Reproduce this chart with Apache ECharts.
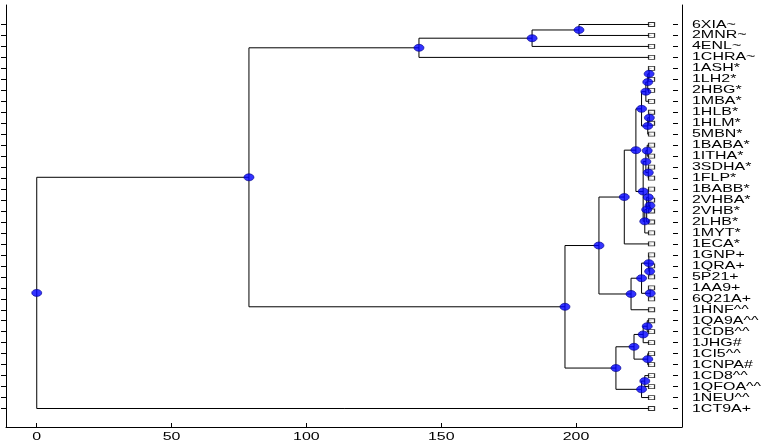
<!DOCTYPE html>
<html>
<head>
<meta charset="utf-8">
<script src="https://cdn.jsdelivr.net/npm/echarts@6/dist/echarts.min.js"></script>
<style>
html,body{margin:0;padding:0;background:#fff;}
#chart{width:764px;height:442px;}
</style>
</head>
<body>
<div id="chart"></div>
<script>
// Leaf labels, top to bottom
const leafLabels = ['6XIA~','2MNR~','4ENL~','1CHRA~','1ASH*','1LH2*','2HBG*','1MBA*','1HLB*','1HLM*','5MBN*','1BABA*','1ITHA*','3SDHA*','1FLP*','1BABB*','2VHBA*','2VHB*','2LHB*','1MYT*','1ECA*','1GNP+','1QRA+','5P21+','1AA9+','6Q21A+','1HNF^^','1QA9A^^','1CDB^^','1JHG#','1CI5^^','1CNPA#','1CD8^^','1QFOA^^','1NEU^^','1CT9A+'];
// Distance of the leaves from the root
const leafDepth = 228.0;
// Merges: negative = leaf (1-based row), positive = earlier merge (1-based)
const mergeA = [-1, 1, 2, -5, 4, 5, -9, 7, 6, -12, -14, 10, -17, -16, 14, 15, 12, 9, 18, -23, -22, -25, 21, 23, 19, -28, 26, -31, 27, -33, 30, 29, 25, 3, 34];
const mergeB = [-2, -3, -4, -6, -7, -8, -10, -11, 8, -13, -15, 11, -18, 13, -19, -20, 16, 17, -21, -24, 20, -26, 22, -27, 24, -29, -30, -32, 28, -34, -35, 31, 32, 33, -36];
const mergeDepth = [201.1, 183.7, 141.75, 227.1, 226.6, 225.9, 227.2, 226.6, 224.3, 226.4, 226.8, 225.9, 227.4, 226.8, 226.2, 225.5, 224.9, 222.2, 217.9, 227.3, 227.0, 227.5, 224.3, 220.4, 208.5, 226.4, 224.9, 226.6, 221.5, 225.5, 224.3, 214.8, 195.9, 78.7, 0];
// x-axis tick labels
const xTicks = [0, 50, 100, 150, 200];

const X_MIN = -11.4, X_MAX = 239.3;

const nodeY = [];
function pos(ref) {
  return ref < 0 ? [leafDepth, -ref] : [mergeDepth[ref - 1], nodeY[ref - 1]];
}
const segs = [];
const nodePts = [];
for (let k = 0; k < mergeDepth.length; k++) {
  const a = pos(mergeA[k]), b = pos(mergeB[k]);
  const y = (a[1] + b[1]) / 2;
  nodeY.push(y);
  const x = mergeDepth[k];
  segs.push({coords: [[a[0], a[1]], [x, a[1]], [x, b[1]], [b[0], b[1]]]});
  nodePts.push([x, y]);
}
const leafPts = leafLabels.map((t, i) => [leafDepth, i + 1]);

const FONT = 'Liberation Sans, Arial, Helvetica, sans-serif';
const STRETCH = 1.45;

const chart = echarts.init(document.getElementById('chart'), null, {renderer: 'canvas'});
const blk = {color: '#000', width: 1};
chart.setOption({
  animation: false,
  backgroundColor: '#fff',
  grid: [
    {left: 6, right: 82, top: 5, bottom: 15},
    {left: 6, right: 82, top: 19, bottom: 28}
  ],
  xAxis: [
    {gridIndex: 0, type: 'value', min: X_MIN, max: X_MAX, splitNumber: 5,
     axisLine: {show: true, onZero: false, lineStyle: blk},
     axisTick: {show: true, inside: true, length: 4, lineStyle: blk},
     axisLabel: {show: false}, splitLine: {show: false}},
    {gridIndex: 1, type: 'value', min: X_MIN, max: X_MAX, show: false}
  ],
  yAxis: [
    {gridIndex: 0, type: 'value', min: 0, max: 1, position: 'left',
     axisLine: {show: true, onZero: false, lineStyle: blk}, axisTick: {show: false},
     axisLabel: {show: false}, splitLine: {show: false}},
    {gridIndex: 0, type: 'value', min: 0, max: 1, position: 'right',
     axisLine: {show: true, onZero: false, lineStyle: blk}, axisTick: {show: false},
     axisLabel: {show: false}, splitLine: {show: false}},
    {gridIndex: 1, type: 'category', data: leafLabels, inverse: true, position: 'left',
     axisLine: {show: false, onZero: false},
     axisTick: {show: true, alignWithLabel: true, interval: 0, length: 5, lineStyle: blk},
     axisLabel: {show: false, interval: 0}, splitLine: {show: false}},
    {gridIndex: 1, type: 'category', data: leafLabels, inverse: true, position: 'right', offset: -4,
     axisLine: {show: false, onZero: false},
     axisTick: {show: true, inside: true, alignWithLabel: true, interval: 0, length: 5, lineStyle: blk},
     axisLabel: {show: false, interval: 0}, splitLine: {show: false}},
    {gridIndex: 1, type: 'value', min: 0.5, max: 36.5, inverse: true, show: false}
  ],
  series: [
    {type: 'lines', coordinateSystem: 'cartesian2d', xAxisIndex: 1, yAxisIndex: 4,
     polyline: true, silent: true, z: 2,
     lineStyle: {color: '#000', width: 1, opacity: 1},
     data: segs},
    {type: 'scatter', xAxisIndex: 1, yAxisIndex: 4, silent: true, z: 3,
     symbol: 'rect', symbolSize: [6, 4],
     itemStyle: {color: '#fff', borderColor: '#000', borderWidth: 1},
     data: leafPts},
    {type: 'scatter', xAxisIndex: 1, yAxisIndex: 4, silent: true, z: 4,
     symbol: 'circle', symbolSize: [10, 7],
     itemStyle: {color: '#0000ff', borderColor: '#00008b', borderWidth: 0.8},
     data: nodePts},
    {type: 'custom', xAxisIndex: 1, yAxisIndex: 4, silent: true, clip: false,
     data: leafLabels.map((t, i) => [X_MAX, i + 1]),
     renderItem: function (params, api) {
       const p = api.coord([api.value(0), api.value(1)]);
       return {type: 'text', x: p[0] + 10, y: p[1], scaleX: STRETCH,
         style: {text: leafLabels[params.dataIndex], fill: '#000', fontSize: 11,
                 fontFamily: FONT, align: 'left', verticalAlign: 'middle'}};
     }},
    {type: 'custom', xAxisIndex: 0, yAxisIndex: 0, silent: true, clip: false,
     data: xTicks.map(v => [v, 0]),
     renderItem: function (params, api) {
       const p = api.coord([api.value(0), api.value(1)]);
       return {type: 'text', x: p[0], y: p[1] + 10, scaleX: STRETCH,
         style: {text: String(xTicks[params.dataIndex]), fill: '#000', fontSize: 11,
                 fontFamily: FONT, align: 'center', verticalAlign: 'middle'}};
     }}
  ]
});
</script>
</body>
</html>
